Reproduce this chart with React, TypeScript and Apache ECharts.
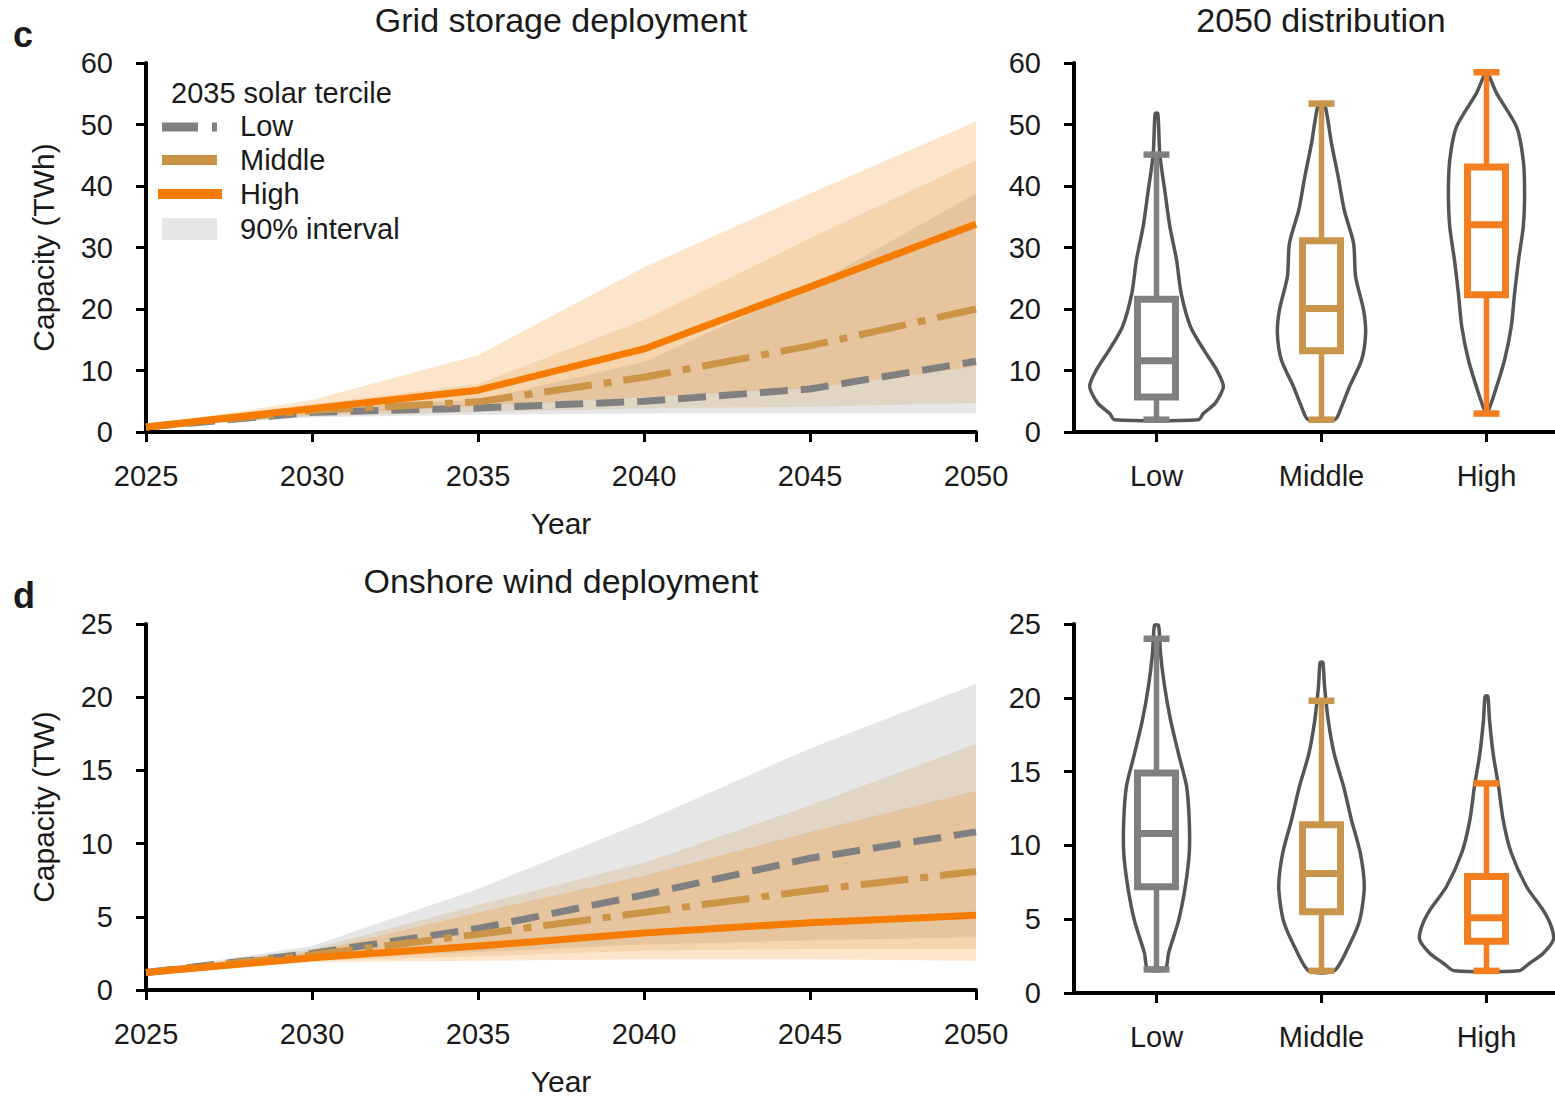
import React, { useEffect, useRef } from 'react';
import * as echarts from 'echarts';

// ---------- data ----------
const years = [2025, 2030, 2035, 2040, 2045, 2050];
const terciles = ['Low', 'Middle', 'High'];

// Grid storage (TWh) medians
const storageLow = [0.8, 3.2, 3.9, 5.0, 7.0, 11.5];
const storageMid = [0.8, 3.5, 4.9, 8.9, 14.0, 20.0];
const storageHigh = [0.8, 3.8, 6.8, 13.5, 23.6, 33.8];
// Grid storage 90% intervals
const storageLowLower = [0.7, 2.4, 2.8, 3.0, 3.0, 3.0];
const storageLowUpper = [1.0, 4.0, 5.2, 11.4, 23.6, 38.8];
const storageMidLower = [0.7, 2.6, 3.2, 3.85, 4.1, 4.7];
const storageMidUpper = [1.0, 4.5, 7.8, 18.2, 31.5, 44.2];
const storageHighLower = [0.7, 2.8, 4.2, 5.7, 7.1, 10.6];
const storageHighUpper = [1.0, 5.2, 12.5, 26.8, 38.8, 50.5];

// Onshore wind (TW) medians
const windLow = [1.2, 2.5, 4.2, 6.5, 9.0, 10.8];
const windMid = [1.2, 2.4, 3.8, 5.3, 6.8, 8.1];
const windHigh = [1.2, 2.2, 3.0, 3.9, 4.6, 5.1];
// Onshore wind 90% intervals
const windLowLower = [1.1, 2.1, 2.6, 3.1, 3.4, 3.6];
const windLowUpper = [1.3, 3.0, 6.9, 11.5, 16.5, 20.9];
const windMidLower = [1.1, 2.0, 2.3, 2.7, 2.8, 2.8];
const windMidUpper = [1.3, 2.8, 5.8, 8.7, 12.6, 16.8];
const windHighLower = [1.1, 1.9, 2.0, 2.1, 2.1, 2.0];
const windHighUpper = [1.3, 2.6, 5.3, 7.8, 10.8, 13.6];

// 2050 distributions: box stats [min, q1, median, q3, max]
const storageBoxLow = [2.0, 5.7, 11.6, 21.6, 45.1];
const storageBoxMid = [2.0, 13.2, 20.1, 31.1, 53.4];
const storageBoxHigh = [3.0, 22.3, 33.7, 43.1, 58.5];
const windBoxLow = [1.6, 7.2, 10.8, 14.9, 24.0];
const windBoxMid = [1.5, 5.5, 8.1, 11.4, 19.8];
const windBoxHigh = [1.5, 3.5, 5.1, 7.9, 14.2];

// violin profiles: value levels and relative density (half width)
const storageViolinLowY = [51.8, 45.1, 38.8, 33.4, 28.0, 22.5, 17.1, 13.3, 10.1, 7.4, 4.7, 3.0, 2.0];
const storageViolinLowW = [0.02, 0.05, 0.13, 0.2, 0.3, 0.37, 0.51, 0.71, 0.9, 1.0, 0.88, 0.7, 0.63];
const storageViolinMidY = [53.4, 46.9, 41.5, 36.1, 30.7, 25.3, 19.8, 16.0, 11.7, 7.4, 4.1, 2.0];
const storageViolinMidW = [0.045, 0.15, 0.25, 0.34, 0.48, 0.51, 0.63, 0.66, 0.6, 0.42, 0.3, 0.2];
const storageViolinHighY = [58.3, 55.1, 49.6, 44.2, 38.8, 33.4, 28.0, 22.5, 17.1, 11.7, 6.3, 3.3];
const storageViolinHighW = [0.02, 0.15, 0.45, 0.55, 0.57, 0.55, 0.48, 0.42, 0.37, 0.27, 0.12, 0.02];

const windViolinLowY = [24.9, 23.0, 20.8, 18.5, 16.2, 14.0, 11.7, 9.5, 7.2, 4.9, 2.7, 1.6];
const windViolinLowW = [0.03, 0.06, 0.12, 0.21, 0.33, 0.45, 0.49, 0.49, 0.43, 0.33, 0.18, 0.13];
const windViolinMidY = [22.4, 20.8, 18.5, 16.2, 14.0, 11.7, 9.5, 7.2, 4.9, 3.1, 1.5];
const windViolinMidW = [0.02, 0.045, 0.1, 0.19, 0.33, 0.45, 0.58, 0.64, 0.57, 0.4, 0.19];
const windViolinHighY = [20.1, 18.5, 16.2, 14.0, 11.7, 9.5, 7.2, 5.6, 4.5, 3.6, 2.7, 2.0, 1.5];
const windViolinHighW = [0.02, 0.045, 0.1, 0.18, 0.25, 0.37, 0.6, 0.85, 0.97, 1.0, 0.85, 0.64, 0.48];

// ---------- styles ----------
const FONT = 'Liberation Sans, Arial, Helvetica, sans-serif';
const TXT = '#1a1a1a';
const C_LOW = '#808080';
const C_MID = '#cc9447';
const C_HIGH = '#f57c00';
const BOX_COLORS = ['#808080', '#c9944b', '#f47d20'];
const LINE_W = 7;
const DASH_LOW = [28, 13];
const DASH_MID = [48, 12, 8, 12];

function bandSeries(lower: number[], upper: number[], color: string, axis: number) {
  return {
    type: 'custom', xAxisIndex: axis, yAxisIndex: axis, silent: true, z: 1,
    data: years.map((y, i) => [y, lower[i], upper[i]]),
    renderItem: (params: any, api: any) => {
      if (params.dataIndex !== 0) return null;
      const top = years.map((y, i) => api.coord([y, upper[i]]));
      const bot = years.map((y, i) => api.coord([y, lower[i]])).reverse();
      return {
        type: 'polygon',
        shape: { points: top.concat(bot) },
        style: { fill: color, opacity: 0.2 },
      };
    },
  };
}

function medianSeries(vals: number[], color: string, dash: any, axis: number, z: number) {
  return {
    type: 'line', xAxisIndex: axis, yAxisIndex: axis, silent: true,
    data: years.map((y, i) => [y, vals[i]]),
    symbol: 'none',
    lineStyle: { color, width: LINE_W, type: dash, cap: 'butt' },
    z,
  };
}

function violinSeries(ys: number[][], ws: number[][], axis: number) {
  return {
    type: 'custom', xAxisIndex: axis, yAxisIndex: axis, silent: true, clip: false, z: 2,
    data: terciles.map((_, i) => [i, 0]),
    renderItem: (params: any, api: any) => {
      const idx = api.value(0);
      const band = api.size([1, 0])[0];
      const maxHalf = band * 0.405;
      const py = ys[idx];
      const pw = ws[idx];
      const right: number[][] = [];
      const left: number[][] = [];
      for (let k = 0; k < py.length; k++) {
        const p = api.coord([idx, py[k]]);
        const hw = pw[k] * maxHalf;
        right.push([p[0] + hw, p[1]]);
        left.push([p[0] - hw, p[1]]);
      }
      const pts = right.concat(left.reverse());
      return {
        type: 'polygon',
        shape: { points: pts, smooth: 0.25 },
        style: { fill: 'none', stroke: '#555555', lineWidth: 3.5, lineJoin: 'round' },
      };
    },
  };
}

function boxSeries(boxes: number[][], axis: number) {
  return {
    type: 'custom', xAxisIndex: axis, yAxisIndex: axis, silent: true, clip: false, z: 3,
    data: boxes.map((b, i) => [i, ...b]),
    renderItem: (params: any, api: any) => {
      const idx = api.value(0);
      const col = BOX_COLORS[idx];
      const pMin = api.coord([idx, api.value(1)]);
      const pQ1 = api.coord([idx, api.value(2)]);
      const pMed = api.coord([idx, api.value(3)]);
      const pQ3 = api.coord([idx, api.value(4)]);
      const pMax = api.coord([idx, api.value(5)]);
      const cx = pMin[0];
      const halfBox = 19;
      const halfCap = 13;
      const st = { stroke: col, lineWidth: 6, fill: 'none' };
      return {
        type: 'group',
        children: [
          { type: 'line', shape: { x1: cx, y1: pMin[1], x2: cx, y2: pQ1[1] }, style: { ...st, lineWidth: 5.5 } },
          { type: 'line', shape: { x1: cx, y1: pQ3[1], x2: cx, y2: pMax[1] }, style: { ...st, lineWidth: 5.5 } },
          { type: 'line', shape: { x1: cx - halfCap, y1: pMin[1], x2: cx + halfCap, y2: pMin[1] }, style: { ...st, lineWidth: 6.5 } },
          { type: 'line', shape: { x1: cx - halfCap, y1: pMax[1], x2: cx + halfCap, y2: pMax[1] }, style: { ...st, lineWidth: 6.5 } },
          { type: 'rect', shape: { x: cx - halfBox, y: pQ3[1], width: halfBox * 2, height: pQ1[1] - pQ3[1] }, style: { ...st, lineWidth: 7 } },
          { type: 'line', shape: { x1: cx - halfBox, y1: pMed[1], x2: cx + halfBox, y2: pMed[1] }, style: { ...st, lineWidth: 7 } },
        ],
      };
    },
  };
}

const axisLine = { show: true, onZero: false, lineStyle: { color: '#000', width: 4 } };
const axisTick = { show: true, length: 10, lineStyle: { color: '#000', width: 3 } };
const labelStyle = { fontSize: 29, color: TXT, fontFamily: FONT };
const nameStyle = { fontSize: 30, color: TXT, fontFamily: FONT };

function yearAxis(grid: number) {
  return {
    gridIndex: grid, type: 'value', min: 2025, max: 2050, interval: 5,
    name: 'Year', nameLocation: 'middle', nameGap: 76, nameTextStyle: nameStyle,
    axisLine, axisTick, splitLine: { show: false },
    axisLabel: { ...labelStyle, margin: 29, formatter: (v: number) => String(v) },
  };
}
function catAxis(grid: number) {
  return {
    gridIndex: grid, type: 'category', data: terciles, boundaryGap: true,
    axisLine, axisTick: { ...axisTick, alignWithLabel: true }, splitLine: { show: false },
    axisLabel: { ...labelStyle, margin: 29 },
  };
}
function valAxis(grid: number, max: number, interval: number, name?: string) {
  return {
    gridIndex: grid, type: 'value', min: 0, max, interval,
    name: name || '', nameLocation: 'middle', nameGap: 88, nameRotate: 90, nameTextStyle: nameStyle,
    axisLine, axisTick, splitLine: { show: false },
    axisLabel: { ...labelStyle, margin: 33 },
  };
}

function text(x: number, y: number, s: string, size: number, align = 'left', weight = 'normal') {
  return {
    type: 'text', x, y, silent: true,
    style: {
      text: s, fill: TXT, fontSize: size, fontFamily: FONT, fontWeight: weight,
      align, textAlign: align, verticalAlign: 'middle', textVerticalAlign: 'middle',
    },
  };
}

export default function App() {
  const ref = useRef<HTMLDivElement>(null);
  useEffect(() => {
    if (!ref.current) return;
    const chart = echarts.init(ref.current, undefined, { renderer: 'svg' });
    const option: any = {
      animation: false,
      textStyle: { fontFamily: FONT },
      grid: [
        { left: 146, top: 63, width: 830, height: 369 },
        { left: 1074, top: 63, width: 495, height: 369 },
        { left: 146, top: 624, width: 830, height: 369 },
        { left: 1074, top: 624, width: 495, height: 369 },
      ],
      xAxis: [yearAxis(0), catAxis(1), yearAxis(2), catAxis(3)],
      yAxis: [
        valAxis(0, 60, 10, 'Capacity (TWh)'),
        valAxis(1, 60, 10),
        valAxis(2, 25, 5, 'Capacity (TW)'),
        valAxis(3, 25, 5),
      ],
      series: [
        bandSeries(storageLowLower, storageLowUpper, C_LOW, 0),
        bandSeries(storageMidLower, storageMidUpper, C_MID, 0),
        bandSeries(storageHighLower, storageHighUpper, C_HIGH, 0),
        medianSeries(storageLow, C_LOW, DASH_LOW, 0, 3),
        medianSeries(storageMid, C_MID, DASH_MID, 0, 4),
        medianSeries(storageHigh, C_HIGH, 'solid', 0, 5),
        bandSeries(windLowLower, windLowUpper, C_LOW, 2),
        bandSeries(windMidLower, windMidUpper, C_MID, 2),
        bandSeries(windHighLower, windHighUpper, C_HIGH, 2),
        medianSeries(windLow, C_LOW, DASH_LOW, 2, 3),
        medianSeries(windMid, C_MID, DASH_MID, 2, 4),
        medianSeries(windHigh, C_HIGH, 'solid', 2, 5),
        violinSeries([storageViolinLowY, storageViolinMidY, storageViolinHighY], [storageViolinLowW, storageViolinMidW, storageViolinHighW], 1),
        boxSeries([storageBoxLow, storageBoxMid, storageBoxHigh], 1),
        violinSeries([windViolinLowY, windViolinMidY, windViolinHighY], [windViolinLowW, windViolinMidW, windViolinHighW], 3),
        boxSeries([windBoxLow, windBoxMid, windBoxHigh], 3),
      ],
      graphic: [
        text(13, 34, 'c', 36, 'left', 'bold'),
        text(13, 595, 'd', 36, 'left', 'bold'),
        text(561, 20, 'Grid storage deployment', 34, 'center'),
        text(1321, 20, '2050 distribution', 34, 'center'),
        text(561, 581, 'Onshore wind deployment', 34, 'center'),
        // legend
        text(171, 93, '2035 solar tercile', 29),
        { type: 'line', silent: true, shape: { x1: 162, y1: 127, x2: 217, y2: 127 }, style: { stroke: C_LOW, lineWidth: 9, lineDash: [36, 14] } },
        { type: 'line', silent: true, shape: { x1: 162, y1: 160, x2: 217, y2: 160 }, style: { stroke: C_MID, lineWidth: 10 } },
        { type: 'line', silent: true, shape: { x1: 158, y1: 194, x2: 222, y2: 194 }, style: { stroke: C_HIGH, lineWidth: 10 } },
        { type: 'rect', silent: true, shape: { x: 162, y: 218, width: 55, height: 22 }, style: { fill: '#e6e6e6' } },
        text(240, 126, 'Low', 29),
        text(240, 160, 'Middle', 29),
        text(240, 194, 'High', 29),
        text(240, 229, '90% interval', 29),
      ],
    };
    chart.setOption(option);
    return () => chart.dispose();
  }, []);
  return (
    <div style={{ position: 'absolute', left: 0, top: 0, width: 1555, height: 1097, overflow: 'hidden', background: '#fff' }}>
      <div ref={ref} style={{ width: 1570, height: 1097 }} />
    </div>
  );
}
